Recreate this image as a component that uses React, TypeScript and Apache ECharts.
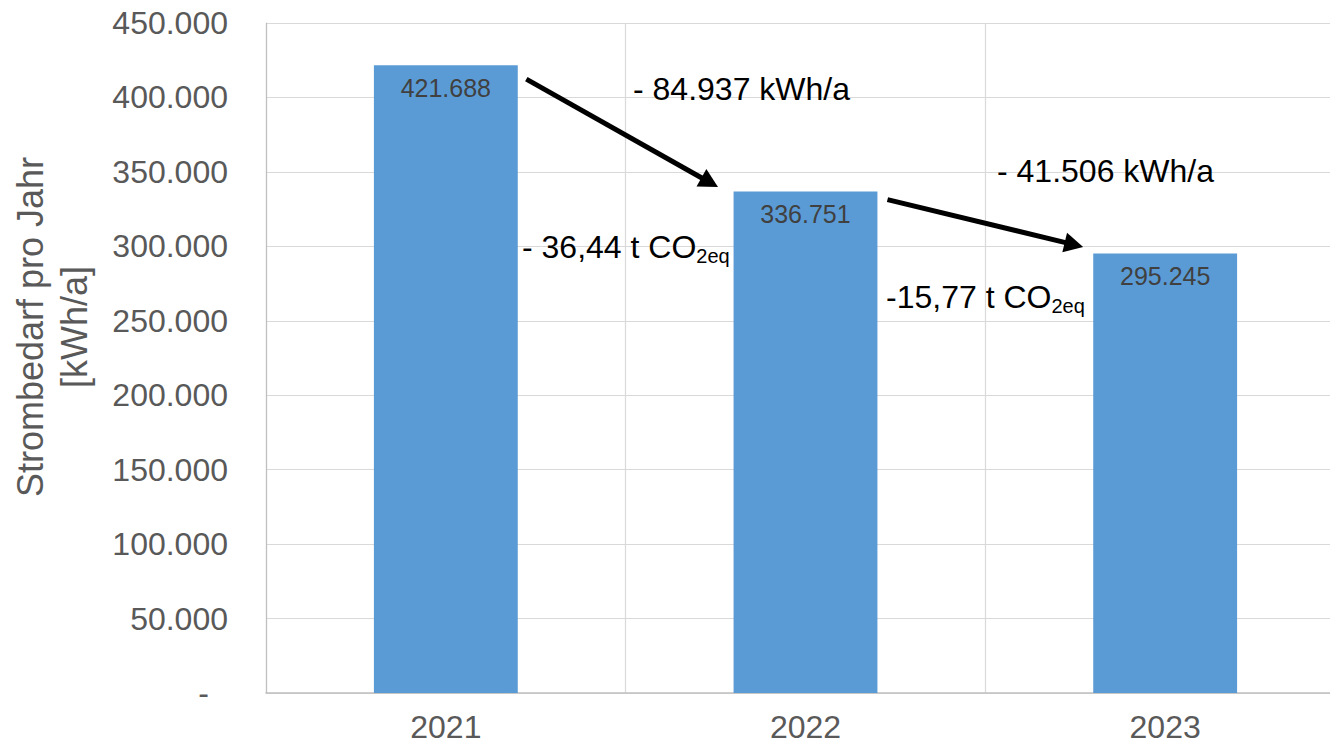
import React, { useEffect, useRef } from "react";
import * as echarts from "echarts";

// Annual electricity demand per year
const years = ["2021", "2022", "2023"];
const demand = [421688, 336751, 295245];
// CO2-equivalent savings between consecutive years
const co2Labels = ["- 36,44 t CO", "-15,77 t CO"];
const co2Sub = "2eq";

const FONT = "Liberation Sans, Arial, sans-serif";
const AXIS_GREY = "#595959";

// German number format: 421688 -> "421.688"
const de = (v: number) => String(Math.round(v)).replace(/\B(?=(\d{3})+(?!\d))/g, ".");

// Arrow anchors, as pixel offsets from the bar tops they connect
const arrowOffsets = [
  { start: [80.5, 14], end: [-87.5, -4.5] },
  { start: [82, 8], end: [-82, -6.5] },
];
// Annotation text placement (pixels)
const kwhPos = [
  [633, 89],
  [997, 171],
];
const co2Pos = [
  [522, 247],
  [886, 297],
];

function measure(text: string, size: number) {
  const c = document.createElement("canvas").getContext("2d");
  if (!c) return text.length * size * 0.55;
  c.font = `${size}px "Liberation Sans", Arial, sans-serif`;
  return c.measureText(text).width;
}

function arrow(s: number[], t: number[]) {
  const dx = t[0] - s[0];
  const dy = t[1] - s[1];
  const len = Math.hypot(dx, dy);
  const ux = dx / len;
  const uy = dy / len;
  const headLen = 19;
  const halfW = 10;
  const bx = t[0] - ux * headLen;
  const by = t[1] - uy * headLen;
  return [
    {
      type: "line",
      shape: { x1: s[0], y1: s[1], x2: bx + ux * 3, y2: by + uy * 3 },
      style: { stroke: "#000", lineWidth: 5 },
      z: 10,
    },
    {
      type: "polygon",
      shape: {
        points: [
          [t[0], t[1]],
          [bx - uy * halfW, by + ux * halfW],
          [bx + uy * halfW, by - ux * halfW],
        ],
      },
      style: { fill: "#000" },
      z: 10,
    },
  ];
}

function txt(text: string, x: number, y: number, size: number, fill: string, extra: any = {}) {
  return {
    type: "text",
    x,
    y,
    z: 10,
    ...extra,
    style: {
      text,
      x: 0,
      y: 0,
      fill,
      fontSize: size,
      fontFamily: FONT,
      align: extra.align || "left",
      textAlign: extra.align || "left",
      verticalAlign: "middle",
      textVerticalAlign: "middle",
      lineHeight: extra.lineHeight,
    },
  };
}

export default function App() {
  const ref = useRef<HTMLDivElement>(null);

  useEffect(() => {
    if (!ref.current) return;
    const chart = echarts.init(ref.current, undefined, { renderer: "svg" });
    chart.setOption({
      animation: false,
      textStyle: { fontFamily: FONT },
      grid: { left: 266, right: 0, top: 23, bottom: 52, containLabel: false },
      xAxis: {
        type: "category",
        data: years,
        axisLine: { lineStyle: { color: "#bfbfbf", width: 1.5 } },
        axisTick: { show: false },
        axisLabel: { fontSize: 32, lineHeight: 26, color: AXIS_GREY, margin: 21 },
        splitLine: { show: true, lineStyle: { color: "#d9d9d9", width: 1.2 } },
      },
      yAxis: {
        type: "value",
        min: 0,
        max: 450000,
        interval: 50000,
        axisLine: { show: true, lineStyle: { color: "#bfbfbf", width: 1.2 } },
        axisTick: { show: false },
        splitLine: { lineStyle: { color: "#d9d9d9", width: 1.2 } },
        axisLabel: {
          fontSize: 32,
          color: AXIS_GREY,
          margin: 38,
          formatter: (v: number) => (v === 0 ? "{z|-}" : de(v)),
          rich: { z: { fontSize: 32, color: AXIS_GREY, padding: [0, 19, 0, 0] } },
        },
      },
      series: [
        {
          type: "bar",
          data: demand,
          barWidth: "40%",
          itemStyle: { color: "#5b9bd5" },
          label: {
            show: true,
            position: "insideTop",
            distance: 10,
            fontSize: 25,
            color: "#404040",
            formatter: (p: any) => de(p.value),
          },
        },
      ],
    });

    // Annotations anchored to the bars
    const tops = demand.map((v, i) => chart.convertToPixel({ seriesIndex: 0 }, [i, v]) as number[]);
    const graphics: any[] = [];
    arrowOffsets.forEach((o, i) => {
      const s = [tops[i][0] + o.start[0], tops[i][1] + o.start[1]];
      const t = [tops[i + 1][0] + o.end[0], tops[i + 1][1] + o.end[1]];
      graphics.push(...arrow(s, t));
      const diff = demand[i] - demand[i + 1];
      graphics.push(txt(`- ${de(diff)} kWh/a`, kwhPos[i][0], kwhPos[i][1], 32, "#000"));
      const main = co2Labels[i];
      const w = measure(main, 32);
      graphics.push(txt(main, co2Pos[i][0], co2Pos[i][1], 32, "#000"));
      graphics.push(txt(co2Sub, co2Pos[i][0] + w, co2Pos[i][1] + 9, 20, "#000"));
    });
    // Y axis title
    graphics.push(
      txt("Strombedarf pro Jahr\n[kWh/a]", 52.5, 327, 36, AXIS_GREY, {
        rotation: Math.PI / 2,
        align: "center",
        lineHeight: 44,
      })
    );
    chart.setOption({ graphic: graphics });

    return () => chart.dispose();
  }, []);

  // The plot runs slightly past the right edge of the visible frame
  return (
    <div
      style={{
        position: "fixed",
        left: 0,
        top: 0,
        width: 1330,
        height: 745,
        overflow: "hidden",
        background: "#fff",
      }}
    >
      <div ref={ref} style={{ width: 1345, height: 745 }} />
    </div>
  );
}
